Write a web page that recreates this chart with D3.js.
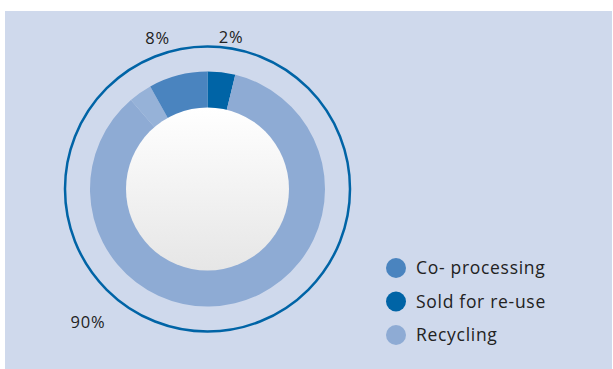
<!DOCTYPE html>
<html><head><meta charset="utf-8">
<script src="https://cdn.jsdelivr.net/npm/d3@7"></script>
<style>body{margin:0;background:#fff;}svg{display:block;}</style>
</head><body>
<svg id="c" width="613" height="369"></svg>
<script>
// Slices drawn clockwise from 12 o'clock (arc sweep, in %)
const sliceNames = ["Sold for re-use", "Recycling", "Recycling (edge)", "Co- processing"];
const sliceValues = [3.8, 84.9, 3.2, 8.1];
const sliceColors = ["#0064a6", "#8eabd4", "#96b2d8", "#4a84bf"];
// Legend
const legendNames = ["Co- processing", "Sold for re-use", "Recycling"];
const legendColors = ["#4a84bf", "#0064a6", "#8eabd4"];
// Percentage labels
const labelTexts = ["8%", "2%", "90%"];

const svg = d3.select("#c");
svg.append("rect").attr("x",5).attr("y",11).attr("width",607).attr("height",358).attr("fill","#cfd9ec");

const defs = svg.append("defs");
const g1 = defs.append("linearGradient").attr("id","ig").attr("x1",0).attr("y1",0).attr("x2",0).attr("y2",1);
g1.append("stop").attr("offset","0%").attr("stop-color","#ffffff");
g1.append("stop").attr("offset","100%").attr("stop-color","#e6e6e6");

const cx = 207.5, cy = 189;
const g = svg.append("g").attr("transform",`translate(${cx},${cy})`);

g.append("circle").attr("r",142.5).attr("fill","none").attr("stroke","#0064a6").attr("stroke-width",2.5);

const pie = d3.pie().sort(null).value(d => d);
const arc = d3.arc().innerRadius(80).outerRadius(117.5);
g.selectAll("path.s").data(pie(sliceValues)).join("path").attr("class","s")
  .attr("d",arc).attr("fill",(d,i)=>sliceColors[i]);

g.append("circle").attr("r",81.5).attr("fill","url(#ig)");

const lbl = [[157.5,44],[231,43],[88,328]];
svg.selectAll("text.p").data(labelTexts).join("text").attr("class","p")
  .attr("x",(d,i)=>lbl[i][0]).attr("y",(d,i)=>lbl[i][1])
  .attr("text-anchor","middle").attr("font-family","'Open Sans', sans-serif")
  .attr("font-size",16.5).attr("letter-spacing",0.8).attr("fill","#222").text(d=>d);

const lg = svg.append("g");
const ly = d3.scalePoint().domain(legendNames).range([268,335]);
lg.selectAll("circle").data(legendNames).join("circle")
  .attr("cx",396).attr("cy",d=>ly(d)).attr("r",10).attr("fill",(d,i)=>legendColors[i]);
lg.selectAll("text").data(legendNames).join("text")
  .attr("x",416).attr("y",d=>ly(d)+6).attr("font-family","'Open Sans', sans-serif")
  .attr("font-size",17.5).attr("letter-spacing",0.7).attr("fill","#222").text(d=>d);
</script>
</body></html>
